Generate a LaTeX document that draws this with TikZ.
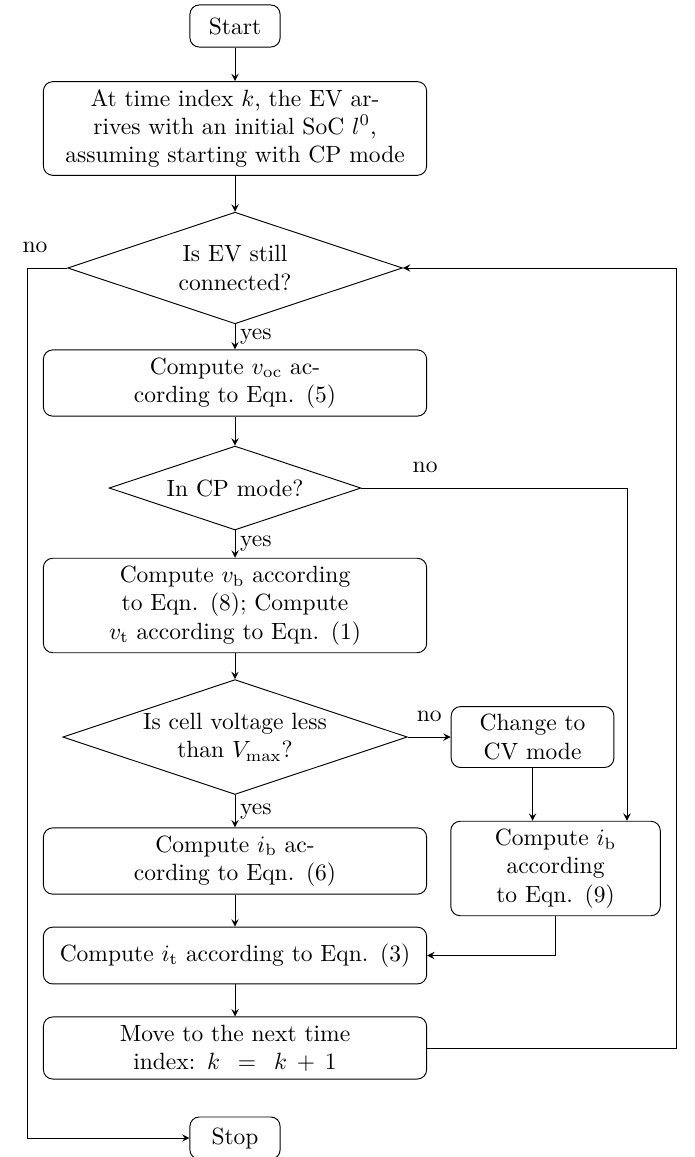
\documentclass[tikz,border=0pt]{standalone}
\usetikzlibrary{positioning}
\usetikzlibrary{calc}
\usetikzlibrary{shapes}
\usetikzlibrary{arrows}

\tikzset{
	term/.style={draw, rounded corners, minimum width=1.35cm, minimum height=0.63cm},
	proc/.style={draw, rounded corners, text width=5.5cm, align=center, minimum height=0.85cm},
	dec/.style={draw, diamond, aspect=3, inner sep=0pt, text width=3cm, align=center},
	arr/.style={-stealth},
	yeslbl/.style={right, inner sep=2pt},
	nolbl/.style={above=3pt}
}

\begin{document}
\begin{tikzpicture}

	% main column
	\node[term] (start) at (0,0) {Start};
	\node[proc] (init) at (0,-1.533) {At time index $k$, the EV ar-\\rives with an initial SoC $l^0$,\\assuming starting with CP mode};
	\node[dec] (conn) at (0,-3.620) {Is EV still\\connected?};
	\node[proc] (voc) at (0,-5.341) {Compute $v_{\mathrm{oc}}$ ac-\\cording to Eqn. (5)};
	\node[dec] (cp) at (0,-6.912) {In CP mode?};
	\node[proc] (vb) at (0,-8.669) {Compute $v_{\mathrm{b}}$ according\\to Eqn. (8); Compute\\$v_{\mathrm{t}}$ according to Eqn. (1)};
	\node[dec] (vmax) at (0,-10.637) {Is cell voltage less\\than $V_{\max}$?};
	\node[proc] (ibl) at (0,-12.492) {Compute $i_{\mathrm{b}}$ ac-\\cording to Eqn. (6)};
	\node[proc] (it) at (0,-13.906) {Compute $i_{\mathrm{t}}$ according to Eqn. (3)};
	\node[proc] (move) at (0,-15.289) {Move to the next time\\index: $k = k + 1$};
	\node[term] (stop) at (0,-16.636) {Stop};

	% CV branch
	\node[proc, text width=2.2cm] (cv) at (4.451,-10.637) {Change to\\CV mode};
	\node[proc, text width=2.9cm] (ibr) at (4.795,-12.604) {Compute $i_{\mathrm{b}}$\\according\\to Eqn. (9)};

	% loop lines
	\coordinate (lloop) at (-3.112,0);
	\coordinate (rloop) at (6.597,0);
	\coordinate (nocp) at (5.864,0);

	% connectors
	\draw[arr] (start) -- (init);
	\draw[arr] (init) -- (conn);
	\draw[arr] (conn) -- node[yeslbl] {yes} (voc);
	\draw[arr] (voc) -- (cp);
	\draw[arr] (cp) -- node[yeslbl] {yes} (vb);
	\draw[arr] (vb) -- (vmax);
	\draw[arr] (vmax) -- node[yeslbl] {yes} (ibl);
	\draw[arr] (ibl) -- (it);
	\draw[arr] (it) -- (move);

	\draw[arr] (vmax) -- node[nolbl] {no} (cv);
	\draw[arr] (cp.east) -| node[nolbl, pos=0.12] {no} (nocp |- ibr.north);
	\draw[arr] (cv.south) -- (cv.south |- ibr.north);
	\draw[arr] (ibr.south) |- (it.east);

	\draw (conn.west) -- node[nolbl, pos=0.8] {no} (conn.west -| lloop);
	\draw[arr] (conn.west -| lloop) |- (stop.west);
	\draw[arr] (move.east) -| (rloop |- conn.east) -- (conn.east);

	\pgfresetboundingbox
	\useasboundingbox (-3.516,0.389) rectangle (6.867,-16.92);

\end{tikzpicture}
\end{document}
